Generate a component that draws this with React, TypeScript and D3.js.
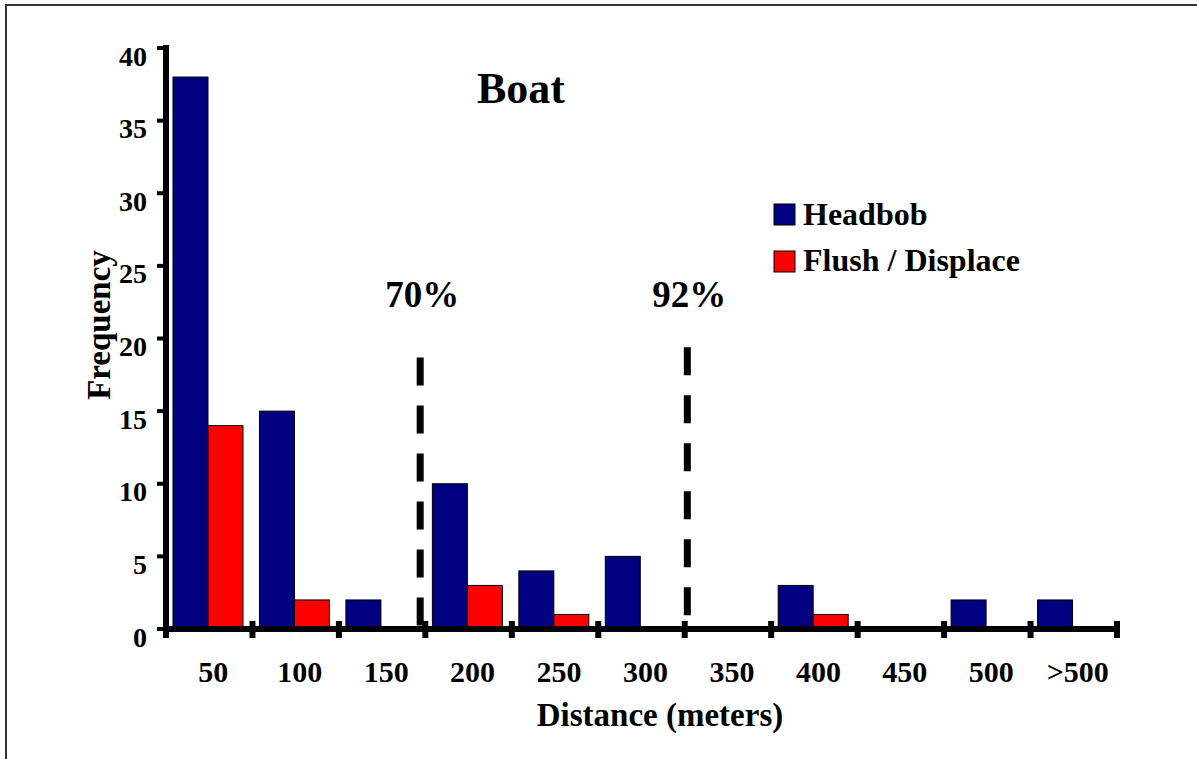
import React from "react";
import * as d3 from "d3";

const categories = ["50", "100", "150", "200", "250", "300", "350", "400", "450", "500", ">500"];
const headbob = [38, 15, 2, 10, 4, 5, 0, 3, 0, 2, 2];
const flush = [14, 2, 0, 3, 1, 0, 0, 1, 0, 0, 0];
const yTicks = [0, 5, 10, 15, 20, 25, 30, 35, 40];
const markerLabels = ["70%", "92%"];
const markerPos = [2.94, 6.03];
const markerTop = [18.7, 19.4];
const seriesNames = ["Headbob", "Flush / Displace"];
const seriesColors = ["#000080", "#FF0000"];

const W = 1197;
const H = 759;
const FONT = "'Liberation Serif', 'Times New Roman', serif";

export default function App() {
  const left = 166;
  const right = 1117;
  const top = 48;
  const bottom = 629;
  const x = d3.scaleLinear().domain([0, categories.length]).range([left, right]);
  const y = d3.scaleLinear().domain([0, 40]).range([bottom, top]);
  const catW = x(1) - x(0);
  const barOff = 7;
  const barW = 35;

  return (
    <svg width={W} height={H} style={{ position: "absolute", left: 0, top: 0, background: "#fff" }} fontFamily={FONT} fontWeight="bold">
      <rect x={0} y={0} width={W} height={H} fill="#fff" />
      <rect x={6} y={5} width={W + 20} height={H + 20} fill="none" stroke="#333" strokeWidth={2} />

      {/* Title */}
      <text x={521} y={103} textAnchor="middle" fontSize={44}>Boat</text>

      {/* Bars */}
      {categories.map((c, i) => (
        <g key={c}>
          {headbob[i] > 0 && (
            <rect x={x(i) + barOff} y={y(headbob[i])} width={barW} height={y(0) - y(headbob[i])}
              fill={seriesColors[0]} stroke="#000" strokeWidth={1} />
          )}
          {flush[i] > 0 && (
            <rect x={x(i) + barOff + barW} y={y(flush[i])} width={barW} height={y(0) - y(flush[i])}
              fill={seriesColors[1]} stroke="#000" strokeWidth={1} />
          )}
        </g>
      ))}

      {/* Marker dashed lines */}
      {markerLabels.map((m, i) => (
        <g key={m}>
          <line x1={x(markerPos[i])} x2={x(markerPos[i])} y1={y(markerTop[i])} y2={y(0)}
            stroke="#000" strokeWidth={7} strokeDasharray="28,20" />
          <text x={x(markerPos[i]) + 2} y={y(22.2)} textAnchor="middle" fontSize={37}>{m}</text>
        </g>
      ))}

      {/* Y axis */}
      <line x1={left} x2={left} y1={top - 3} y2={bottom + 9} stroke="#000" strokeWidth={6} />
      {yTicks.map((t) => (
        <g key={t}>
          <line x1={left - 9} x2={left} y1={y(t)} y2={y(t)} stroke="#000" strokeWidth={4} />
          <text x={147} y={y(t) + 8} textAnchor="end" dominantBaseline="central" fontSize={28}>{t}</text>
        </g>
      ))}

      {/* X axis */}
      <line x1={left} x2={right} y1={bottom} y2={bottom} stroke="#000" strokeWidth={6} />
      {d3.range(1, categories.length + 1).map((i) => (
        <line key={i} x1={x(i)} x2={x(i)} y1={bottom - 8} y2={bottom + 9} stroke="#000" strokeWidth={6} />
      ))}
      {categories.map((c, i) => (
        <text key={c} x={x(i) + catW / 2 + 4} y={682} textAnchor="middle" fontSize={30}>{c}</text>
      ))}

      {/* Axis titles */}
      <text x={660} y={726} textAnchor="middle" fontSize={33}>Distance (meters)</text>
      <text transform={`translate(110,325) rotate(-90)`} textAnchor="middle" fontSize={33}>Frequency</text>

      {/* Legend */}
      {seriesNames.map((s, i) => (
        <g key={s}>
          <rect x={774} y={204 + i * 47} width={21} height={21} fill={seriesColors[i]} stroke="#000" strokeWidth={1} />
          <text x={803} y={225 + i * 46} fontSize={32}>{s}</text>
        </g>
      ))}
    </svg>
  );
}
